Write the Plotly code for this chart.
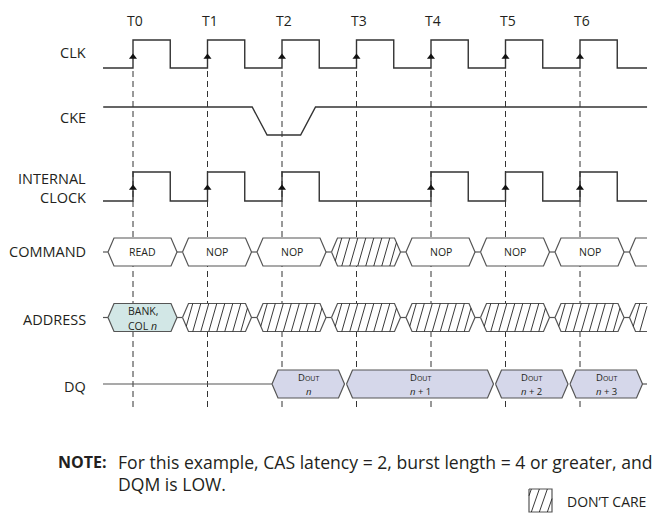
import plotly.graph_objects as go

# ---------------- data ----------------
clock_labels = ["T0", "T1", "T2", "T3", "T4", "T5", "T6"]
clock_edges = [0, 1, 2, 3, 4, 5, 6]
internal_edges = [0, 1, 2, 4, 5, 6]
cke_times = [-0.4, 1.6, 1.8, 2.25, 2.45, 6.9]
cke_levels = [1, 1, 0, 0, 1, 1]
command_values = ["READ", "NOP", "NOP", None, "NOP", "NOP", "NOP"]
address_values = ["BANK, COL n", None, None, None, None, None, None]
dq_values = ["n", "n + 1", "n + 2", "n + 3"]
dq_start = [2, 3, 5, 6]
dq_end = [3, 5, 6, 7]
signal_names = ["CLK", "CKE", "INTERNAL CLOCK", "COMMAND", "ADDRESS", "DQ"]
note_head = "NOTE:"
note_lines = ["For this example, CAS latency = 2, burst length = 4 or greater, and",
              "DQM is LOW."]
legend_text = "DON\u2019T CARE"

# ---------------- geometry (pixels) ----------------
W, H = 663, 514
X0 = 133.0      # pixel of T0
P = 74.5        # pixels per clock period


def t(px):
    return (px - X0) / P


T_START, T_END = t(103), t(647)
DUTY = 0.5
CLK_HI, CLK_LO = 40, 68
CKE_HI, CKE_LO = 107, 135
INT_HI, INT_LO = 172, 201
CMD_Y, ADDR_Y, DQ_Y = 252, 317.5, 384
BH = 14          # half bus height
C = 6            # hexagon corner inset px
LABEL_X = 88
FONT = "Open Sans"
TXT = "#231f20"
WAVE = "#333333"
BUS = "#555555"
ADDR_FILL = "#d2e7e6"
DQ_FILL = "#d5d7ea"

fig = go.Figure()


def add_line(xs, ys, color=WAVE, width=1.4, dash=None, fill=None, fillcolor=None):
    fig.add_trace(go.Scatter(x=xs, y=ys, mode="lines",
                             line=dict(color=color, width=width, dash=dash),
                             fill=fill, fillcolor=fillcolor,
                             hoverinfo="skip", showlegend=False))


# dashed reference lines at each clock edge
dx, dy = [], []
for e in clock_edges:
    dx += [e, e, None]
    dy += [CLK_LO + 3, 410, None]
add_line(dx, dy, color="#333333", width=1, dash="6px,4px")


def clock_path(edges, hi, lo):
    xs, ys = [T_START], [lo]
    for e in edges:
        xs += [e, e, e + DUTY, e + DUTY]
        ys += [lo, hi, hi, lo]
    xs.append(T_END)
    ys.append(lo)
    return xs, ys


xs, ys = clock_path(clock_edges, CLK_HI, CLK_LO)
add_line(xs, ys)
xs, ys = clock_path(internal_edges, INT_HI, INT_LO)
add_line(xs, ys)

# CKE
add_line(cke_times, [CKE_HI if v else CKE_LO for v in cke_levels])

# rising-edge arrows
fig.add_trace(go.Scatter(
    x=list(clock_edges) + list(internal_edges),
    y=[CLK_LO - 11] * len(clock_edges) + [INT_LO - 13] * len(internal_edges),
    mode="markers", marker=dict(symbol="triangle-up", size=7, color="#111111"),
    hoverinfo="skip", showlegend=False))


def hexagon(Lp, Rp, yc):
    return [(Lp, yc), (Lp + C, yc - BH), (Rp - C, yc - BH), (Rp, yc),
            (Rp - C, yc + BH), (Lp + C, yc + BH)]


def open_end(Lp, Rp, yc):
    return [(Lp, yc), (Lp + C, yc - BH), (Rp, yc - BH), (Rp, yc + BH), (Lp + C, yc + BH)]


def clip_segment(p0, p1, poly):
    cx = sum(p[0] for p in poly) / len(poly)
    cy = sum(p[1] for p in poly) / len(poly)
    u0, u1 = 0.0, 1.0
    ddx, ddy = p1[0] - p0[0], p1[1] - p0[1]
    n = len(poly)
    for i in range(n):
        a, b = poly[i], poly[(i + 1) % n]
        nx, ny = -(b[1] - a[1]), b[0] - a[0]
        if nx * (cx - a[0]) + ny * (cy - a[1]) < 0:
            nx, ny = -nx, -ny
        num = nx * (p0[0] - a[0]) + ny * (p0[1] - a[1])
        den = nx * ddx + ny * ddy
        if abs(den) < 1e-12:
            if num < 0:
                return None
            continue
        u = -num / den
        if den > 0:
            u0 = max(u0, u)
        else:
            u1 = min(u1, u)
        if u0 >= u1:
            return None
    return (p0[0] + u0 * ddx, p0[1] + u0 * ddy), (p0[0] + u1 * ddx, p0[1] + u1 * ddy)


HATCH_DX, HATCH_SP = 8, 8
hatch_x, hatch_y = [], []


def add_hatch(poly):
    xmin = min(p[0] for p in poly)
    xmax = max(p[0] for p in poly)
    ymin = min(p[1] for p in poly)
    ymax = max(p[1] for p in poly)
    x = xmin - HATCH_DX + 2
    while x < xmax:
        seg = clip_segment((x, ymax + 1),
                           (x + HATCH_DX * (ymax - ymin + 2) / (ymax - ymin), ymin - 1), poly)
        if seg:
            (ax, ay), (bx, by) = seg
            hatch_x.extend([t(ax), t(bx), None])
            hatch_y.extend([ay, by, None])
        x += HATCH_SP


def draw_poly(poly, fillcolor):
    pts = poly + [poly[0]]
    add_line([t(p[0]) for p in pts], [p[1] for p in pts], color=BUS, width=1.2,
             fill="toself", fillcolor=fillcolor)


annots = []


def text(x, y, s, size, xanchor="center", bold=False):
    annots.append(dict(x=x, y=y, xref="x", yref="y", text=s, showarrow=False,
                       xanchor=xanchor, yanchor="middle",
                       font=dict(family=FONT, size=size, color=TXT,
                                 weight="bold" if bold else "normal")))


def fmt_n(s):
    return s.replace("n", "<i>n</i>")


# command & address buses (slots aligned on clock edges)
for yc, values, fill in [(CMD_Y, command_values, "white"), (ADDR_Y, address_values, ADDR_FILL)]:
    Ls = [X0 + P * k - 25 for k in range(len(values) + 1)]
    Rs = [X0 + P * k + 44 for k in range(len(values))]
    add_line([T_START, t(Ls[0])], [yc, yc], color=BUS, width=1.2)
    for k, v in enumerate(values):
        poly = hexagon(Ls[k], Rs[k], yc)
        draw_poly(poly, fill if v is not None else "white")
        add_line([t(Rs[k]), t(Ls[k + 1])], [yc, yc], color=BUS, width=1.2)
        if v is None:
            add_hatch(poly)
        else:
            cx = t((Ls[k] + Rs[k]) / 2)
            parts = v.split(", ")
            if len(parts) == 1:
                text(cx, yc, parts[0], 10.5)
            else:
                text(cx, yc - 7, parts[0] + ",", 10.5)
                text(cx, yc + 8, fmt_n(parts[1]), 10.5)
    # trailing open slot
    tail = open_end(Ls[-1], 647, yc)
    fig.add_trace(go.Scatter(x=[t(p[0]) for p in tail], y=[p[1] for p in tail],
                             mode="none", fill="toself", fillcolor="white",
                             hoverinfo="skip", showlegend=False))
    add_line([t(647), t(tail[1][0]), t(tail[0][0]), t(tail[4][0]), t(647)],
             [yc - BH, yc - BH, yc, yc + BH, yc + BH], color=BUS, width=1.2)
    if values[-1] is None:
        add_hatch(tail)

# DQ bus
first_L = X0 + P * dq_start[0] - 10
add_line([T_START, t(first_L)], [DQ_Y, DQ_Y], color=BUS, width=1.2)
for v, s, e in zip(dq_values, dq_start, dq_end):
    Lp = X0 + P * s - 10
    Rp = X0 + P * e - 12
    draw_poly(hexagon(Lp, Rp, DQ_Y), DQ_FILL)
    cx = t((Lp + Rp) / 2)
    text(cx, DQ_Y - 7, "D<span style='font-size:7px'>OUT</span>", 9.5)
    text(cx, DQ_Y + 7, fmt_n(v), 9.5)
last_R = X0 + P * dq_end[-1] - 12
add_line([t(last_R), T_END], [DQ_Y, DQ_Y], color=BUS, width=1.2)

# legend box
LB = [(529, 489), (552, 489), (552, 512), (529, 512)]
draw_poly(LB, "white")
add_hatch(LB)

# hatch lines (drawn last, on top of boxes)
add_line(hatch_x, hatch_y, color="#222222", width=0.9)

# clock labels
for lab, e in zip(clock_labels, clock_edges):
    text(e + 2 / P, 20, lab, 14)

# signal labels
label_y = [52, 117, None, 251, 319, 386]
for name, y in zip(signal_names, label_y):
    if y is None:
        a, b = name.split(" ")
        text(t(LABEL_X), 178, a, 14.5, xanchor="right")
        text(t(LABEL_X), 197, b, 14.5, xanchor="right")
    else:
        text(t(LABEL_X), y, name, 14.5, xanchor="right")

# note
text(t(56), 462, note_head, 16, xanchor="left", bold=True)
text(t(116), 462, note_lines[0], 17.6, xanchor="left")
text(t(116), 484, note_lines[1], 17.6, xanchor="left")
text(t(565), 501, legend_text, 14, xanchor="left")

fig.update_layout(
    width=W, height=H, margin=dict(l=0, r=0, t=0, b=0),
    paper_bgcolor="white", plot_bgcolor="white",
    xaxis=dict(range=[t(0), t(W)], visible=False, fixedrange=True),
    yaxis=dict(range=[H, 0], visible=False, fixedrange=True),
    annotations=annots, showlegend=False,
)
fig.write_html("out.html", config={"displayModeBar": False},
               post_script="document.body.style.margin='0px';document.body.style.overflow='hidden';")
